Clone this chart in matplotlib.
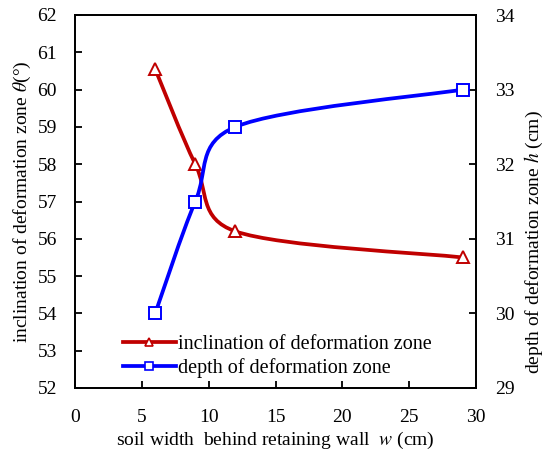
import numpy as np
import matplotlib
matplotlib.use('Agg')
import matplotlib.pyplot as plt
from matplotlib.path import Path
from matplotlib.patches import PathPatch
from matplotlib.lines import Line2D

plt.rcParams['font.family'] = ['Liberation Serif', 'DejaVu Serif']
plt.rcParams['mathtext.fontset'] = 'stix'

# soil width behind the wall (cm)
width = [6, 9, 12, 29]
# inclination of deformation zone (deg), left axis
theta = [60.55, 58.0, 56.2, 55.5]
# depth of deformation zone (cm), right axis
depth = [30.0, 31.5, 32.5, 33.0]

red = '#c00000'
blue = '#0000ff'


def smooth_path(axis, xs, ys):
    # spreadsheet-style smoothed line, built in pixel space so the
    # handle lengths can be capped at half of each segment
    tr = axis.transData
    p = tr.transform(np.column_stack([xs, ys]))
    n = len(p)
    verts = [p[0]]
    codes = [Path.MOVETO]
    for i in range(n - 1):
        p1, p2 = p[i], p[i + 1]
        p0 = p[i - 1] if i > 0 else p1
        p3 = p[i + 2] if i + 2 < n else p2
        d12 = np.hypot(*(p2 - p1))
        d02 = np.hypot(*(p2 - p0))
        d13 = np.hypot(*(p3 - p1))
        f1 = 1 / 6 if d02 / 6 < d12 / 2 else d12 / (2 * d02)
        f2 = 1 / 6 if d13 / 6 < d12 / 2 else d12 / (2 * d13)
        verts += [p1 + f1 * (p2 - p0), p2 - f2 * (p3 - p1), p2]
        codes += [Path.CURVE4] * 3
    return Path(tr.inverted().transform(np.array(verts)), codes)


fig = plt.figure(figsize=(5.44, 4.55), dpi=100)
ax = fig.add_axes([75 / 544, 1 - 388 / 455, 401 / 544, 373 / 455])
ax2 = ax.twinx()

ax.set_xlim(0, 30)
ax.set_ylim(52, 62)
ax2.set_ylim(29, 34)
ax.set_xticks(np.arange(0, 31, 5))
ax.set_yticks(np.arange(52, 63, 1))
ax2.set_yticks(np.arange(29, 35, 1))

ax.add_patch(PathPatch(smooth_path(ax, width, theta), fill=False,
                       edgecolor=red, lw=2.7, zorder=2))
ax.plot(width, theta, ls='none', marker='^', ms=9, mfc='white',
        mec=red, mew=1.4, zorder=3)

ax2.add_patch(PathPatch(smooth_path(ax2, width, depth), fill=False,
                        edgecolor=blue, lw=2.7, zorder=2))
ax2.plot(width, depth, ls='none', marker='s', ms=9, mfc='white',
         mec=blue, mew=1.4, zorder=3)

for a in (ax, ax2):
    for s in a.spines.values():
        s.set_linewidth(1.3)
ax.tick_params(axis='x', direction='in', length=5, width=1.3,
               labelsize=14, pad=15, top=False)
ax.tick_params(axis='y', direction='in', length=5, width=1.3,
               labelsize=14, pad=13)
ax2.tick_params(axis='y', direction='in', length=5, width=1.3,
                labelsize=14, pad=14)

ax.set_xlabel('soil width  behind retaining wall  $w$ (cm)', fontsize=14,
              labelpad=3)
ax.set_ylabel(r'inclination of deformation zone $\theta$(°)', fontsize=14,
              labelpad=3)
# right-hand axis title, sitting a little below the axis middle
fig.text(534 / 544, 1 - 242 / 455, 'depth of deformation zone $h$ (cm)',
         fontsize=14, rotation=90, ha='center', va='center')

handles = [
    Line2D([], [], color=red, lw=2.7, marker='^', ms=6, mfc='white',
           mec=red, mew=1.2),
    Line2D([], [], color=blue, lw=2.7, marker='s', ms=6, mfc='white',
           mec=blue, mew=1.2),
]
ax.legend(handles, ['inclination of deformation zone',
                    'depth of deformation zone'],
          loc='lower left', bbox_to_anchor=(0.1, 0.005), frameon=False,
          fontsize=14.5, handlelength=2.6, handletextpad=0.1,
          labelspacing=0.2, borderaxespad=0)

fig.savefig('out.png', dpi=100, facecolor='white')
